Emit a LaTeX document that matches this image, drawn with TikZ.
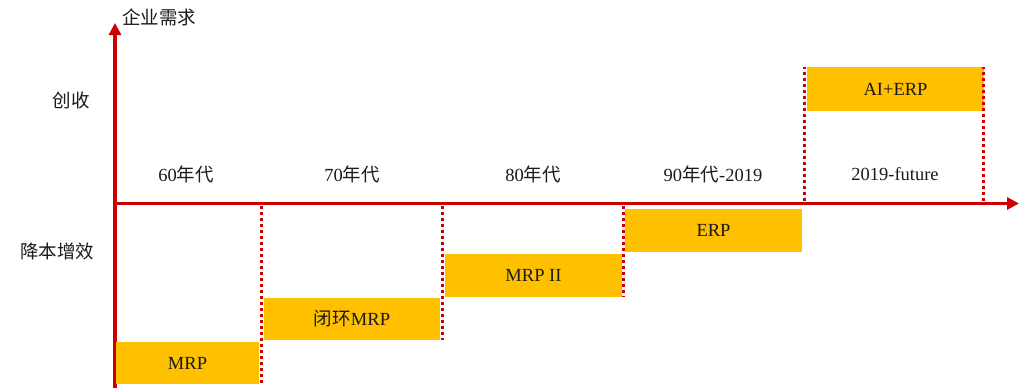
\documentclass[tikz,border=0pt]{standalone}
\usepackage{fontspec}
\setmainfont{Liberation Serif}
\newfontfamily\cjk{Noto Sans CJK SC}
\usetikzlibrary{arrows.meta}
\definecolor{axisred}{RGB}{204,0,0}
\definecolor{barfill}{RGB}{255,192,0}
\definecolor{ink}{RGB}{26,26,26}
\tikzset{
  axisline/.style={axisred, line width=3.5pt, -{Triangle[length=12pt,width=12pt]}},
  guide/.style={axisred, line width=2.6pt, dash pattern=on 3pt off 3pt},
  bar/.style={fill=barfill, draw=none, inner sep=0pt, text=ink, font=\fontsize{18.5}{20}\selectfont},
  lbl/.style={text=ink, inner sep=0pt, font=\fontsize{18.5}{20}\selectfont},
}
\begin{document}
\begin{tikzpicture}[x=1pt,y=-1pt]
\useasboundingbox (0,0) rectangle (1027,391);

% axes
\coordinate (ybot) at (115,388);
\coordinate (ytop) at (115,23);
\coordinate (xstart) at (113.25,203.5);
\coordinate (xend) at (1019,203.5);
\draw[axisline] (ybot) -- (ytop);
\draw[axisline] (xstart) -- (xend);

% axis captions
\node[lbl] (ycap) at (159,17) {\cjk 企业需求};
\node[lbl] (up) at (71,100) {\cjk 创收};
\node[lbl] (down) at (57,251) {\cjk 降本增效};

% period labels
\node[lbl] (p60) at (186,174) {60{\cjk 年代}};
\node[lbl] (p70) at (352,174) {70{\cjk 年代}};
\node[lbl] (p80) at (533,174) {80{\cjk 年代}};
\node[lbl] (p90) at (713,174) {90{\cjk 年代}-2019};
\node[lbl] (pfut) at (895,174) {2019-future};

% stage bars
\node[bar, minimum width=143pt, minimum height=42pt] (mrp) at (187.5,363) {MRP};
\node[bar, minimum width=176pt, minimum height=42pt] (cmrp) at (352,319) {{\cjk 闭环}MRP};
\node[bar, minimum width=177pt, minimum height=43pt] (mrp2) at (533.5,275.5) {MRP II};
\node[bar, minimum width=177pt, minimum height=43pt] (erp) at (713.5,230.5) {ERP};
\node[bar, minimum width=177pt, minimum height=44pt] (aierp) at (895.5,89) {AI+ERP};

% dotted period boundaries
\coordinate (g1) at (261.5,206);
\coordinate (g2) at (442.5,206);
\coordinate (g3) at (623.5,206);
\coordinate (g4) at (804.5,201);
\coordinate (g5) at (983.5,201);
\draw[guide] (g1) -- (g1 |- mrp.south);
\draw[guide] (g2) -- (g2 |- cmrp.south);
\draw[guide] (g3) -- (g3 |- mrp2.south);
\draw[guide] (g4) -- (g4 |- aierp.north);
\draw[guide] (g5) -- (g5 |- aierp.north);
\end{tikzpicture}
\end{document}
